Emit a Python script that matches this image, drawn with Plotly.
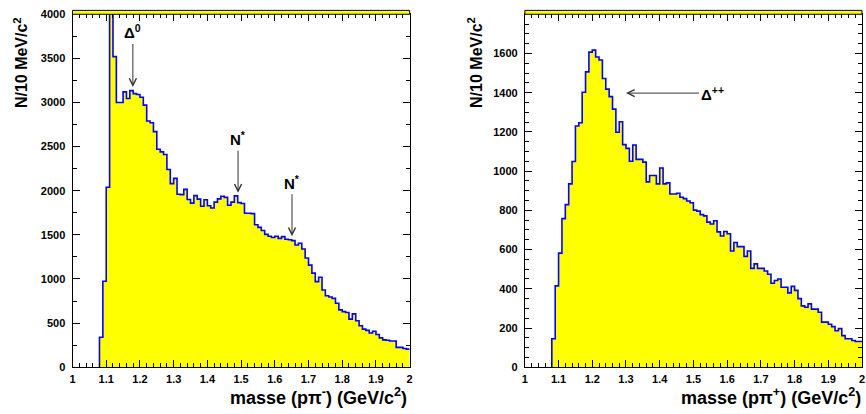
import numpy as np
import plotly.graph_objects as go

W, H = 866, 414

# ---------------- data ----------------
bin_width = 0.01
bin_low = np.round(1.0 + bin_width * np.arange(100), 2)   # 1.00 ... 1.99 GeV/c^2

counts_p_pim = [
    0, 0, 0, 0, 0, 0, 0, 0, 340, 975,
    2040, 4600, 3520, 3000, 3000, 3120, 3045, 3135, 3100, 3090,
    3060, 2970, 2790, 2770, 2670, 2470, 2440, 2410, 2240, 2080,
    2140, 1960, 1956, 2015, 1900, 1860, 1945, 1905, 1824, 1898,
    1830, 1805, 1871, 1908, 1938, 1925, 1835, 1871, 1942, 1865,
    1855, 1744, 1744, 1740, 1615, 1585, 1550, 1505, 1485, 1470,
    1485, 1460, 1480, 1450, 1445, 1435, 1385, 1405, 1340, 1238,
    1157, 1066, 970, 1019, 875, 810, 795, 780, 725, 650,
    630, 620, 545, 605, 527, 470, 432, 418, 388, 407,
    370, 333, 310, 305, 297, 297, 225, 225, 212, 205,
]

counts_p_pip = [
    0, 0, 0, 0, 0, 0, 0, 0, 145, 415,
    582, 758, 829, 935, 1049, 1230, 1247, 1402, 1506, 1607,
    1617, 1582, 1567, 1472, 1418, 1380, 1316, 1198, 1252, 1135,
    1116, 1050, 1133, 1060, 1060, 1046, 945, 978, 978, 935,
    1016, 935, 940, 883, 883, 887, 867, 860, 848, 839,
    801, 796, 778, 772, 740, 730, 747, 690, 669, 692,
    681, 593, 636, 615, 615, 565, 593, 504, 527, 504,
    504, 491, 474, 428, 442, 450, 408, 408, 379, 412,
    392, 350, 313, 306, 323, 296, 296, 280, 230, 230,
    219, 207, 186, 197, 161, 145, 145, 136, 131, 131,
]

x_tick_vals = [1.0, 1.1, 1.2, 1.3, 1.4, 1.5, 1.6, 1.7, 1.8, 1.9, 2.0]
x_tick_text = ["1", "1.1", "1.2", "1.3", "1.4", "1.5", "1.6", "1.7", "1.8", "1.9", "2"]
y1_tick_vals = [0, 500, 1000, 1500, 2000, 2500, 3000, 3500, 4000]
y2_tick_vals = [0, 200, 400, 600, 800, 1000, 1200, 1400, 1600]

# ---------------- helpers ----------------
def px(x):
    return x / W

def py(y):
    return 1 - y / H

def outline(counts):
    c = np.asarray(counts, dtype=float)
    first = int(np.nonzero(c)[0][0])
    edges = np.round(np.append(bin_low, bin_low[-1] + bin_width), 2)
    xs = [edges[first]] + list(edges[first:])
    ys = [0.0] + list(c[first:]) + [c[-1]]
    return xs, ys

FONT = "Liberation Sans"
YELLOW = "#ffff00"
BLUE = "#0000ff"

fig = go.Figure()
for counts, xa, ya in [(counts_p_pim, "x", "y"), (counts_p_pip, "x2", "y2")]:
    xs, ys = outline(counts)
    fig.add_trace(go.Scatter(
        x=xs, y=ys, mode="lines", xaxis=xa, yaxis=ya,
        line=dict(shape="hv", color=BLUE, width=1.6),
        fill="tozeroy", fillcolor=YELLOW, hoverinfo="skip", showlegend=False,
    ))

y_dom = [py(372), py(8.5)]

def xaxis(domain, anchor):
    return dict(
        domain=domain, anchor=anchor, range=[1, 2],
        tickmode="array", tickvals=x_tick_vals, ticktext=x_tick_text,
        ticks="inside", ticklen=7, tickwidth=1, tickcolor="black",
        minor=dict(tickmode="linear", tick0=1, dtick=0.02, ticks="inside",
                   ticklen=4, tickwidth=1, tickcolor="black"),
        showline=True, linecolor="black", linewidth=1, mirror="allticks",
        showgrid=False, zeroline=False,
        tickfont=dict(family=FONT, size=11, color="black", weight="bold"),
        ticklabelstandoff=2,
    )

def yaxis(anchor, rng, vals, minor_dt):
    return dict(
        domain=y_dom, anchor=anchor, range=rng,
        tickmode="array", tickvals=vals, ticktext=[str(v) for v in vals],
        ticks="inside", ticklen=7, tickwidth=1, tickcolor="black",
        minor=dict(tickmode="linear", tick0=0, dtick=minor_dt, ticks="inside",
                   ticklen=4, tickwidth=1, tickcolor="black"),
        showline=True, linecolor="black", linewidth=1, mirror="allticks",
        showgrid=False, zeroline=False,
        tickfont=dict(family=FONT, size=11, color="black", weight="bold"),
        ticklabelstandoff=4,
    )

fig.update_layout(
    width=W, height=H, margin=dict(l=0, r=0, t=0, b=0),
    paper_bgcolor="white", plot_bgcolor="white",
    xaxis=xaxis([px(70), px(409.5)], "y"),
    yaxis=yaxis("x", [0, 4000], y1_tick_vals, 250),
    xaxis2=xaxis([px(525.5), px(865)], "y2"),
    yaxis2=yaxis("x2", [0, 1800], y2_tick_vals, 50),
)

ann = []
TF = dict(family=FONT, size=16, color="black", weight="bold")
XF = dict(family=FONT, size=18, color="black", weight="bold")
# axis titles
for xc in (18, 476):
    ann.append(dict(xref="paper", yref="paper", x=px(xc), y=py(9), xanchor="center",
                    yanchor="top", textangle=-90, showarrow=False,
                    text="N/10 MeV/c<sup>2</sup>", font=TF))
ann.append(dict(xref="paper", yref="paper", x=px(409), y=py(402), xanchor="right",
                yanchor="middle", showarrow=False,
                text="masse (pπ<sup>-</sup>) (GeV/c<sup>2</sup>)", font=XF))
ann.append(dict(xref="paper", yref="paper", x=px(866), y=py(402), xanchor="right",
                yanchor="middle", showarrow=False,
                text="masse (pπ<sup>+</sup>) (GeV/c<sup>2</sup>)", font=XF))

LF = dict(family=FONT, size=15, color="black", weight="bold")
ARROW = dict(showarrow=True, arrowhead=5, arrowsize=1.4, arrowwidth=1,
             arrowcolor="#333333", axref="pixel", ayref="pixel", font=LF, standoff=0,
             startstandoff=1)
# left panel resonance markers (text sits at the arrow tail)
ann.append(dict(xref="x", yref="y", x=1.179, y=3176, ax=0, ay=-55,
                text="Δ<sup>0</sup>", **ARROW))
ann.append(dict(xref="x", yref="y", x=1.491, y=1978, ax=0, ay=-54,
                text="N<sup>*</sup>", **ARROW))
ann.append(dict(xref="x", yref="y", x=1.651, y=1484, ax=0, ay=-54,
                text="N<sup>*</sup>", **ARROW))
# right panel
ann.append(dict(xref="x2", yref="y2", x=1.300, y=1398, ax=87, ay=0,
                text="Δ<sup>++</sup>", **ARROW))
fig.update_layout(annotations=ann)

shapes = []
band = 4 / (372 - 8.5)
for xr, yr in (("x domain", "y domain"), ("x2 domain", "y2 domain")):
    shapes.append(dict(type="rect", xref=xr, yref=yr, x0=0, x1=1, y0=1, y1=1 + band,
                       fillcolor=YELLOW, line=dict(color="black", width=1), layer="above"))
fig.update_layout(shapes=shapes)

fig.write_html("out.html", config={"displayModeBar": False},
               post_script="document.body.style.margin='0px';document.body.style.padding='0px';")
